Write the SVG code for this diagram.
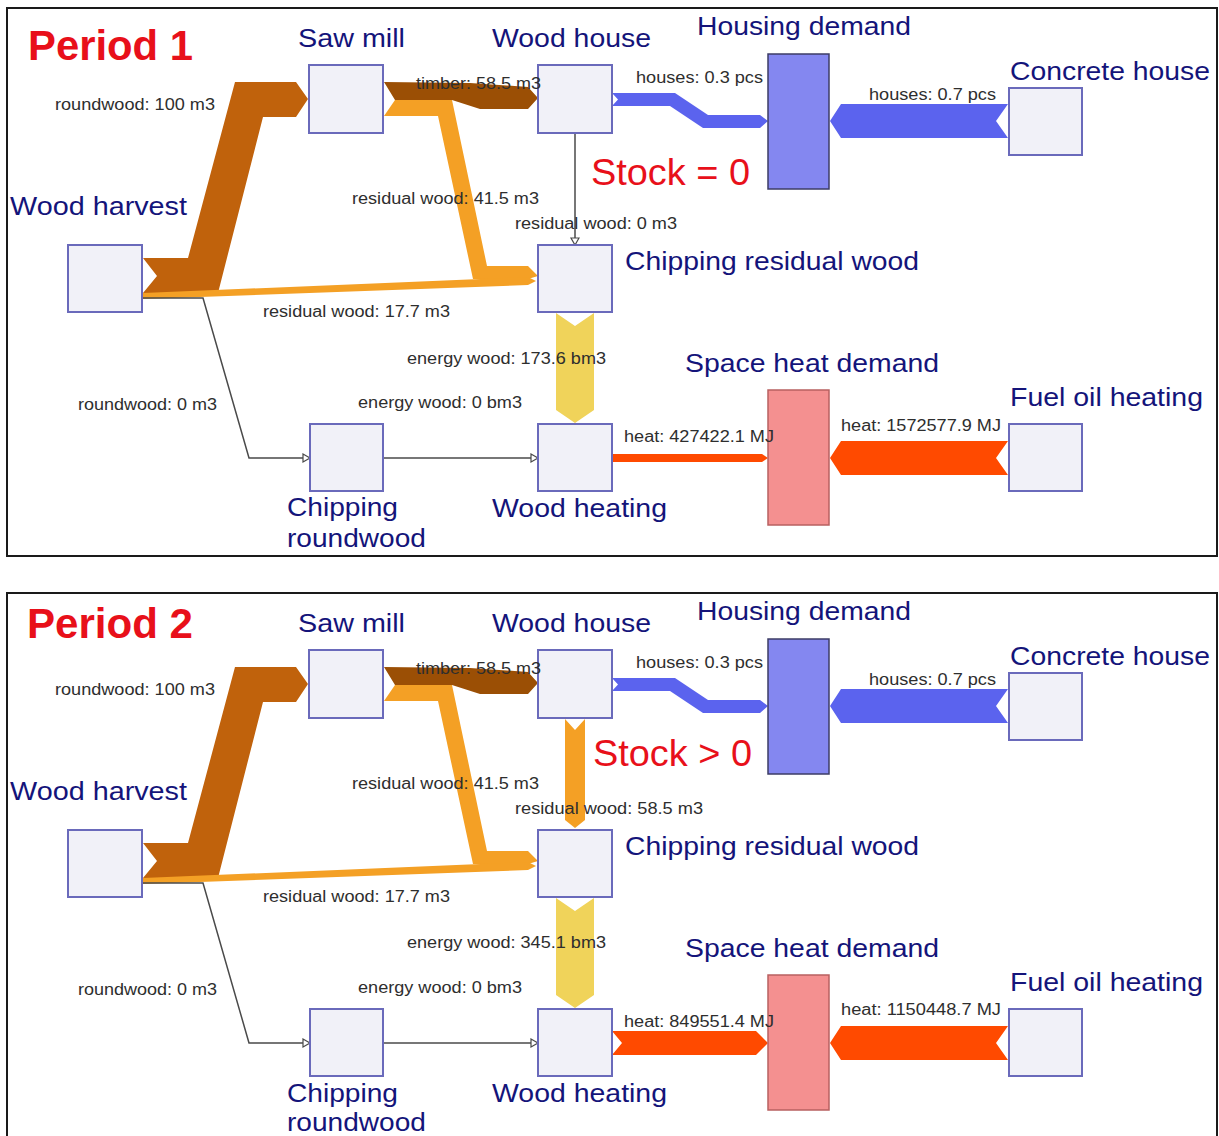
<svg xmlns="http://www.w3.org/2000/svg" width="1219" height="1136" viewBox="0 0 1219 1136">
<style>
.bg{fill:#ffffff}
.panel{fill:none;stroke:#1a1a1a;stroke-width:2}
.box{fill:#f1f1f8;stroke:#6a6abb;stroke-width:2}
.house{fill:#8487f0;stroke:#3c3c66;stroke-width:1.5}
.heatd{fill:#f49090;stroke:#b86060;stroke-width:1.5}
.nl{font-family:"Liberation Sans",Arial,sans-serif;font-size:25px;fill:#14147a}
.el{font-family:"Liberation Sans",Arial,sans-serif;font-size:16px;fill:#2e2e2e}
.title{font-family:"Liberation Sans",Arial,sans-serif;font-size:42px;font-weight:bold;fill:#e8101a}
.stock{font-family:"Liberation Sans",Arial,sans-serif;font-size:36px;fill:#e8101a}
.rw{fill:#c0620c}
.tim{fill:#9b4f05}
.res{fill:#f4a025}
.ew{fill:#f0d35a}
.hs{fill:#5b63ee}
.ht{fill:#ff4a00}
.thin{fill:none;stroke:#4a4a4a;stroke-width:1.5}
</style>
<defs>
<marker id="open" markerUnits="userSpaceOnUse" markerWidth="10" markerHeight="12" refX="8" refY="5" orient="auto">
<path d="M1,1 L8,5 L1,9 z" fill="#ffffff" stroke="#4a4a4a" stroke-width="1.2"/>
</marker>
</defs>
<rect class="bg" x="0" y="0" width="1219" height="1136"/>

<!-- ================= PERIOD 1 ================= -->
<g id="period1">
<rect class="panel" x="7" y="8" width="1210" height="548"/>
<text class="title" x="28" y="60" textLength="165" lengthAdjust="spacingAndGlyphs">Period 1</text>

<g id="p1-connectors">
<polygon class="rw" points="143,258 188,258 235,82 296,82 308,99 296,117 263,117 218,293 143,293 157,276"/>
<polygon class="res" points="395,100 452,100 487,266 528,266 538,276 528,279 473,279 438,116 384,116"/>
<polygon class="res" points="143,293 528,277 536,281 528,285 143,299"/>
<polygon class="tim" points="384,82 470,83 528,87 538,98 528,109 480,109 452,100 395,100"/>
<polygon class="hs" points="612,93 675,93 708,115 760,115 768,121 760,128 703,128 670,106 612,106 618,99.5"/>
<polygon class="hs" points="1008,104 996,121 1008,138 841,138 830,121 841,104"/>
<polygon class="ew" points="556,313 575,326 594,313 594,410 575,423 556,410"/>
<polygon class="ht" points="612,454 762,454 768,458 762,462 612,462"/>
<polygon class="ht" points="1008,441 996,458 1008,475 841,475 830,458 841,441"/>
<path class="thin" d="M143,298 L203,298 L249,458 L310,458" marker-end="url(#open)"/>
<path class="thin" d="M383,458 L538,458" marker-end="url(#open)"/>
<path class="thin" d="M575,133 L575,245" marker-end="url(#open)"/>
</g>

<g id="p1-wood-harvest"><rect class="box" x="68" y="245" width="74" height="67"/><text class="nl" x="10" y="215" textLength="177" lengthAdjust="spacingAndGlyphs">Wood harvest</text></g>
<g id="p1-saw-mill"><rect class="box" x="309" y="65" width="74" height="68"/><text class="nl" x="298" y="47" textLength="107" lengthAdjust="spacingAndGlyphs">Saw mill</text></g>
<g id="p1-wood-house"><rect class="box" x="538" y="65" width="74" height="68"/><text class="nl" x="492" y="47" textLength="159" lengthAdjust="spacingAndGlyphs">Wood house</text></g>
<g id="p1-housing-demand"><rect class="house" x="768" y="54" width="61" height="135"/><text class="nl" x="697" y="35" textLength="214" lengthAdjust="spacingAndGlyphs">Housing demand</text></g>
<g id="p1-concrete-house"><rect class="box" x="1009" y="88" width="73" height="67"/><text class="nl" x="1010" y="80" textLength="200" lengthAdjust="spacingAndGlyphs">Concrete house</text></g>
<g id="p1-chipping-residual"><rect class="box" x="538" y="245" width="74" height="67"/><text class="nl" x="625" y="270" textLength="294" lengthAdjust="spacingAndGlyphs">Chipping residual wood</text></g>
<g id="p1-chipping-roundwood"><rect class="box" x="310" y="424" width="73" height="67"/><text class="nl" x="287" y="516" textLength="111" lengthAdjust="spacingAndGlyphs">Chipping</text><text class="nl" x="287" y="547" textLength="139" lengthAdjust="spacingAndGlyphs">roundwood</text></g>
<g id="p1-wood-heating"><rect class="box" x="538" y="424" width="74" height="67"/><text class="nl" x="492" y="517" textLength="175" lengthAdjust="spacingAndGlyphs">Wood heating</text></g>
<g id="p1-space-heat-demand"><rect class="heatd" x="768" y="390" width="61" height="135"/><text class="nl" x="685" y="372" textLength="254" lengthAdjust="spacingAndGlyphs">Space heat demand</text></g>
<g id="p1-fuel-oil-heating"><rect class="box" x="1009" y="424" width="73" height="67"/><text class="nl" x="1010" y="406" textLength="193" lengthAdjust="spacingAndGlyphs">Fuel oil heating</text></g>

<g id="p1-connector-labels">
<text class="el" x="55" y="110" textLength="160" lengthAdjust="spacingAndGlyphs">roundwood: 100 m3</text>
<text class="el" x="416" y="89" textLength="125" lengthAdjust="spacingAndGlyphs">timber: 58.5 m3</text>
<text class="el" x="636" y="83" textLength="127" lengthAdjust="spacingAndGlyphs">houses: 0.3 pcs</text>
<text class="el" x="869" y="100" textLength="127" lengthAdjust="spacingAndGlyphs">houses: 0.7 pcs</text>
<text class="el" x="352" y="204" textLength="187" lengthAdjust="spacingAndGlyphs">residual wood: 41.5 m3</text>
<text class="el" x="515" y="229" textLength="162" lengthAdjust="spacingAndGlyphs">residual wood: 0 m3</text>
<text class="el" x="263" y="317" textLength="187" lengthAdjust="spacingAndGlyphs">residual wood: 17.7 m3</text>
<text class="el" x="407" y="364" textLength="199" lengthAdjust="spacingAndGlyphs">energy wood: 173.6 bm3</text>
<text class="el" x="358" y="408" textLength="164" lengthAdjust="spacingAndGlyphs">energy wood: 0 bm3</text>
<text class="el" x="78" y="410" textLength="139" lengthAdjust="spacingAndGlyphs">roundwood: 0 m3</text>
<text class="el" x="624" y="442" textLength="150" lengthAdjust="spacingAndGlyphs">heat: 427422.1 MJ</text>
<text class="el" x="841" y="431" textLength="160" lengthAdjust="spacingAndGlyphs">heat: 1572577.9 MJ</text>
</g>
<text class="stock" x="591" y="185" textLength="159" lengthAdjust="spacingAndGlyphs">Stock = 0</text>
</g>

<!-- ================= PERIOD 2 ================= -->
<g id="period2" transform="translate(0,585)">
<rect class="panel" x="7" y="8" width="1210" height="560"/>
<text class="title" x="27" y="53" textLength="166" lengthAdjust="spacingAndGlyphs">Period 2</text>

<g id="p2-connectors">
<polygon class="rw" points="143,258 188,258 235,82 296,82 308,99 296,117 263,117 218,293 143,293 157,276"/>
<polygon class="res" points="395,100 452,100 487,266 528,266 538,276 528,279 473,279 438,116 384,116"/>
<polygon class="res" points="143,293 528,277 536,281 528,285 143,299"/>
<polygon class="tim" points="384,82 470,83 528,87 538,98 528,109 480,109 452,100 395,100"/>
<polygon class="res" points="565,134 575,145 585,134 585,235 575,243 565,235"/>
<polygon class="hs" points="612,93 675,93 708,115 760,115 768,121 760,128 703,128 670,106 612,106 618,99.5"/>
<polygon class="hs" points="1008,104 996,121 1008,138 841,138 830,121 841,104"/>
<polygon class="ew" points="556,313 575,326 594,313 594,410 575,423 556,410"/>
<polygon class="ht" points="612,446 756,446 768,458 756,470 612,470 622,458"/>
<polygon class="ht" points="1008,441 996,458 1008,475 841,475 830,458 841,441"/>
<path class="thin" d="M143,298 L203,298 L249,458 L310,458" marker-end="url(#open)"/>
<path class="thin" d="M383,458 L538,458" marker-end="url(#open)"/>
</g>

<g id="p2-wood-harvest"><rect class="box" x="68" y="245" width="74" height="67"/><text class="nl" x="10" y="215" textLength="177" lengthAdjust="spacingAndGlyphs">Wood harvest</text></g>
<g id="p2-saw-mill"><rect class="box" x="309" y="65" width="74" height="68"/><text class="nl" x="298" y="47" textLength="107" lengthAdjust="spacingAndGlyphs">Saw mill</text></g>
<g id="p2-wood-house"><rect class="box" x="538" y="65" width="74" height="68"/><text class="nl" x="492" y="47" textLength="159" lengthAdjust="spacingAndGlyphs">Wood house</text></g>
<g id="p2-housing-demand"><rect class="house" x="768" y="54" width="61" height="135"/><text class="nl" x="697" y="35" textLength="214" lengthAdjust="spacingAndGlyphs">Housing demand</text></g>
<g id="p2-concrete-house"><rect class="box" x="1009" y="88" width="73" height="67"/><text class="nl" x="1010" y="80" textLength="200" lengthAdjust="spacingAndGlyphs">Concrete house</text></g>
<g id="p2-chipping-residual"><rect class="box" x="538" y="245" width="74" height="67"/><text class="nl" x="625" y="270" textLength="294" lengthAdjust="spacingAndGlyphs">Chipping residual wood</text></g>
<g id="p2-chipping-roundwood"><rect class="box" x="310" y="424" width="73" height="67"/><text class="nl" x="287" y="517" textLength="111" lengthAdjust="spacingAndGlyphs">Chipping</text><text class="nl" x="287" y="546" textLength="139" lengthAdjust="spacingAndGlyphs">roundwood</text></g>
<g id="p2-wood-heating"><rect class="box" x="538" y="424" width="74" height="67"/><text class="nl" x="492" y="517" textLength="175" lengthAdjust="spacingAndGlyphs">Wood heating</text></g>
<g id="p2-space-heat-demand"><rect class="heatd" x="768" y="390" width="61" height="135"/><text class="nl" x="685" y="372" textLength="254" lengthAdjust="spacingAndGlyphs">Space heat demand</text></g>
<g id="p2-fuel-oil-heating"><rect class="box" x="1009" y="424" width="73" height="67"/><text class="nl" x="1010" y="406" textLength="193" lengthAdjust="spacingAndGlyphs">Fuel oil heating</text></g>

<g id="p2-connector-labels">
<text class="el" x="55" y="110" textLength="160" lengthAdjust="spacingAndGlyphs">roundwood: 100 m3</text>
<text class="el" x="416" y="89" textLength="125" lengthAdjust="spacingAndGlyphs">timber: 58.5 m3</text>
<text class="el" x="636" y="83" textLength="127" lengthAdjust="spacingAndGlyphs">houses: 0.3 pcs</text>
<text class="el" x="869" y="100" textLength="127" lengthAdjust="spacingAndGlyphs">houses: 0.7 pcs</text>
<text class="el" x="352" y="204" textLength="187" lengthAdjust="spacingAndGlyphs">residual wood: 41.5 m3</text>
<text class="el" x="515" y="229" textLength="188" lengthAdjust="spacingAndGlyphs">residual wood: 58.5 m3</text>
<text class="el" x="263" y="317" textLength="187" lengthAdjust="spacingAndGlyphs">residual wood: 17.7 m3</text>
<text class="el" x="407" y="363" textLength="199" lengthAdjust="spacingAndGlyphs">energy wood: 345.1 bm3</text>
<text class="el" x="358" y="408" textLength="164" lengthAdjust="spacingAndGlyphs">energy wood: 0 bm3</text>
<text class="el" x="78" y="410" textLength="139" lengthAdjust="spacingAndGlyphs">roundwood: 0 m3</text>
<text class="el" x="624" y="442" textLength="150" lengthAdjust="spacingAndGlyphs">heat: 849551.4 MJ</text>
<text class="el" x="841" y="430" textLength="160" lengthAdjust="spacingAndGlyphs">heat: 1150448.7 MJ</text>
</g>
<text class="stock" x="593" y="181" textLength="159" lengthAdjust="spacingAndGlyphs">Stock &gt; 0</text>
</g>
</svg>
